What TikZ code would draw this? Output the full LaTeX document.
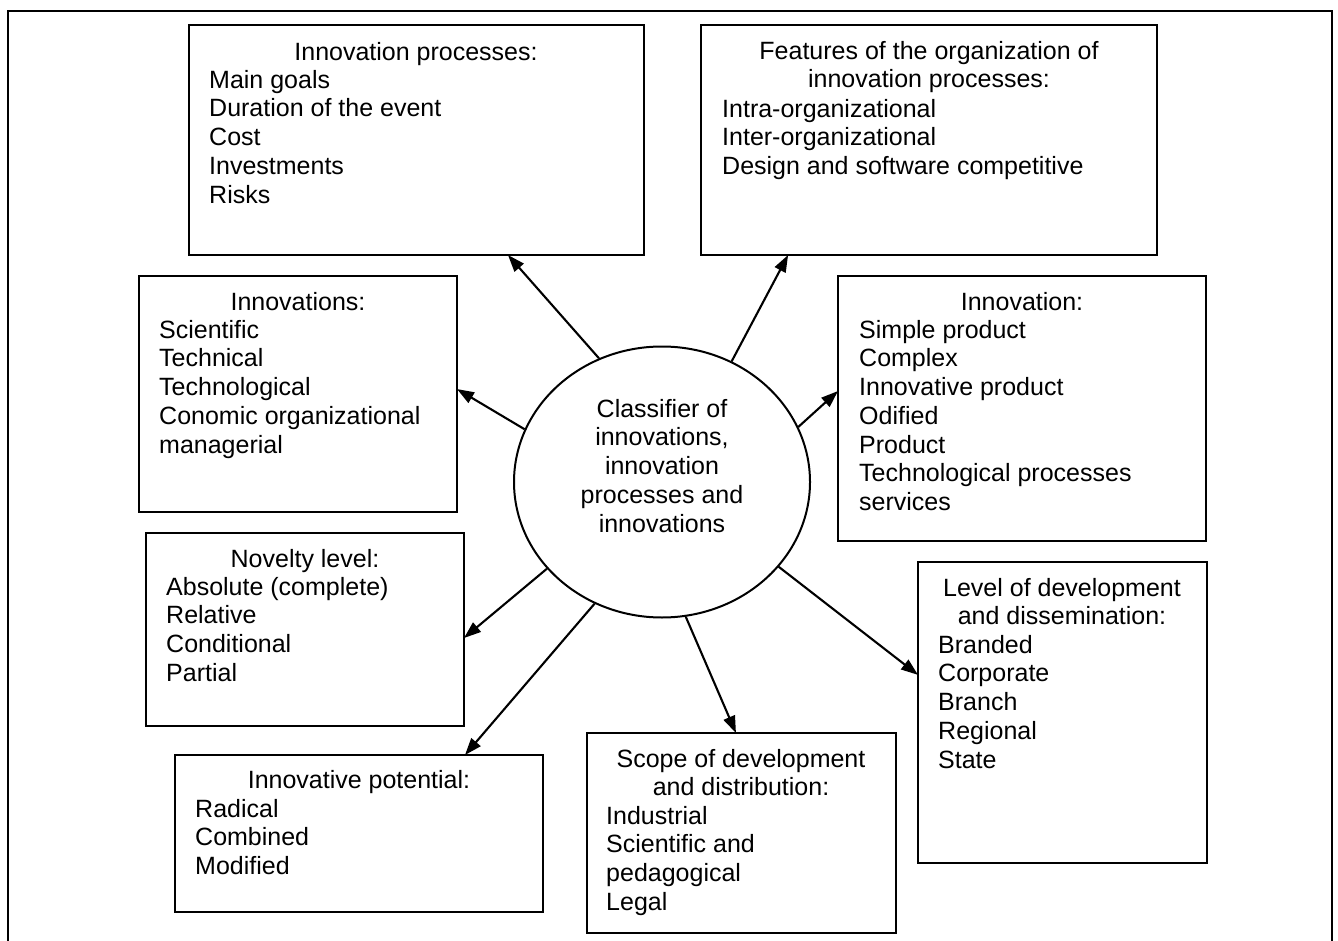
\documentclass[tikz,border=0pt]{standalone}
\usepackage{fontspec}
\setmainfont{Liberation Sans}
\usetikzlibrary{shapes.geometric,arrows.meta,calc}
\newcommand\myfs{\fontsize{25}{28.75}\selectfont}
\newcommand\tp{\rule{0pt}{20pt}}
\tikzset{
  box/.style={draw, line width=2.2pt, rectangle, inner sep=0pt, outer sep=0pt, anchor=north west},
  txt/.style={inner sep=0pt, align=left, anchor=north west, font=\myfs},
  ttl/.style={inner sep=0pt, align=center, anchor=north, font=\myfs},
  arr/.style={line width=2.1pt, -{Triangle[length=17pt,width=12pt]}},
}
\begin{document}
\begin{tikzpicture}[x=1pt,y=-1pt]
\useasboundingbox (0,0) rectangle (1338,941);
% outer frame (open at the bottom)
\draw[line width=2.8pt] (8,941) -- (8,11) -- (1332,11) -- (1332,941);

% boxes
\node[box, minimum width=455pt, minimum height=230pt] (b1) at (189,25) {};
\node[box, minimum width=456pt, minimum height=230pt] (b2) at (701,25) {};
\node[box, minimum width=318pt, minimum height=236pt] (b3) at (139,276) {};
\node[box, minimum width=368pt, minimum height=265pt] (b4) at (838,276) {};
\node[box, minimum width=318pt, minimum height=193pt] (b5) at (146,533) {};
\node[box, minimum width=289pt, minimum height=301pt] (b6) at (918,562) {};
\node[box, minimum width=368pt, minimum height=157pt] (b7) at (175,755) {};
\node[box, minimum width=309pt, minimum height=200pt] (b8) at (587,733) {};

% central ellipse
\node[ellipse, draw, line width=2pt, minimum width=296pt, minimum height=271pt, inner sep=0pt] (ell) at (662,482) {};
\node[ttl] (et) at (662,397) {\tp Classifier of\\innovations,\\innovation\\processes and\\innovations};

% texts
\node[ttl] (t1) at (416,40) {\tp Innovation processes:};
\node[txt] (l1) at (209,68) {\tp Main goals\\Duration of the event\\Cost\\Investments\\Risks};

\node[ttl] (t2) at (929,39) {\tp Features of the organization of\\innovation processes:};
\node[txt] (l2) at (722,97) {\tp Intra-organizational\\Inter-organizational\\Design and software competitive};

\node[ttl] (t3) at (298,290) {\tp Innovations:};
\node[txt] (l3) at (159,318) {\tp Scientific\\Technical\\Technological\\Conomic organizational\\managerial};

\node[ttl] (t4) at (1022,290) {\tp Innovation:};
\node[txt] (l4) at (859,318) {\tp Simple product\\Complex\\Innovative product\\Odified\\Product\\Technological processes\\services};

\node[ttl] (t5) at (305,547) {\tp Novelty level:};
\node[txt] (l5) at (166,575) {\tp Absolute (complete)\\Relative\\Conditional\\Partial};

\node[ttl] (t6) at (1062,576) {\tp Level of development\\and dissemination:};
\node[txt] (l6) at (938,633) {\tp Branded\\Corporate\\Branch\\Regional\\State};

\node[ttl] (t7) at (359,768) {\tp Innovative potential:};
\node[txt] (l7) at (195,797) {\tp Radical\\Combined\\Modified};

\node[ttl] (t8) at (741,747) {\tp Scope of development\\and distribution:};
\node[txt] (l8) at (606,804) {\tp Industrial\\Scientific and\\pedagogical\\Legal};

% connectors
\draw[arr] (ell.117) -- ($(b1.south west)!0.701!(b1.south east)$);
\draw[arr] (ell.60) -- ($(b2.south west)!0.191!(b2.south east)$);
\draw[arr] (ell.159.6) -- ($(b3.north east)!0.479!(b3.south east)$);
\draw[arr] (ell.22.9) -- ($(b4.north west)!0.434!(b4.south west)$);
\draw[arr] (ell.217.3) -- ($(b5.north east)!0.544!(b5.south east)$);
\draw[arr] (ell.241.1) -- ($(b7.north west)!0.788!(b7.north east)$);
\draw[arr] (ell.280.3) -- ($(b8.north west)!0.482!(b8.north east)$);
\draw[arr] (ell.324.1) -- ($(b6.north west)!0.375!(b6.south west)$);
\end{tikzpicture}
\end{document}
